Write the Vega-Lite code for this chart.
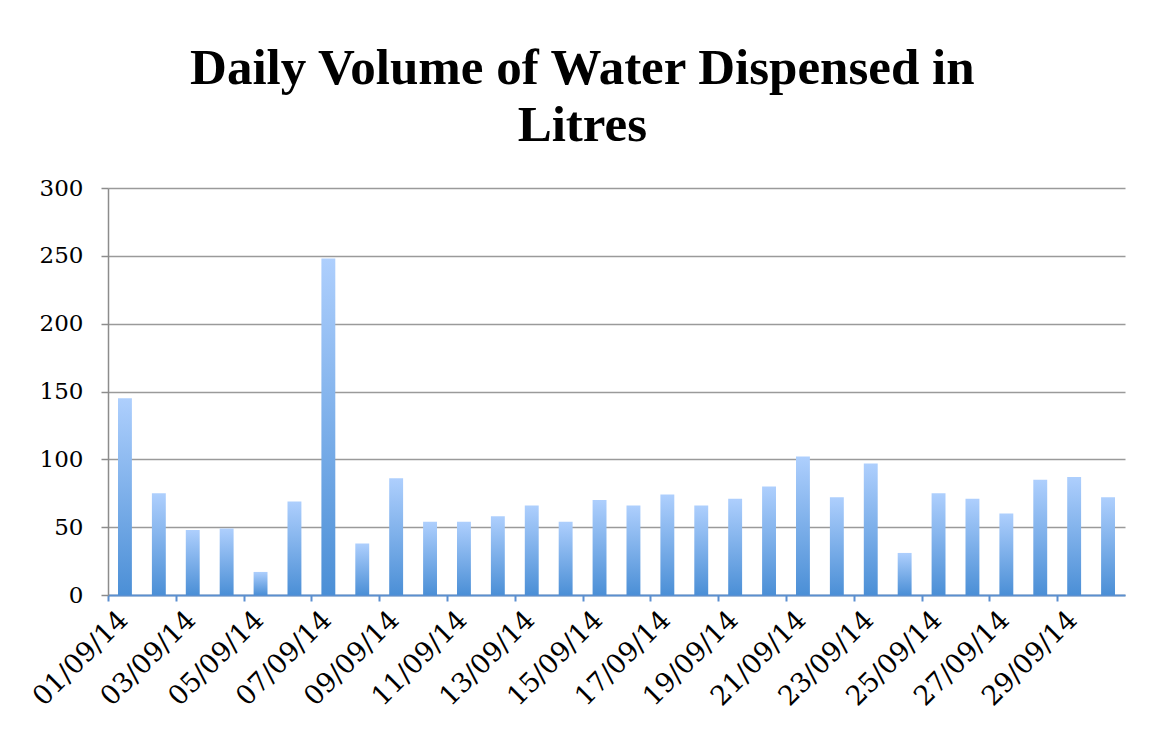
{
  "$schema": "https://vega.github.io/schema/vega-lite/v6.json",
  "width": 1017,
  "height": 407,
  "autosize": {"type": "none"},
  "padding": {"left": 108, "top": 188, "right": 30, "bottom": 137},
  "background": "white",
  "title": {
    "text": ["Daily Volume of Water Dispensed in", "Litres"],
    "font": "Liberation Serif",
    "fontSize": 51,
    "fontWeight": "bold",
    "color": "black",
    "anchor": "middle",
    "frame": "bounds",
    "lineHeight": 57,
    "offset": 25,
    "dx": 6
  },
  "data": {
    "values": [
      {"date": "01/09/14", "litres": 145},
      {"date": "02/09/14", "litres": 75},
      {"date": "03/09/14", "litres": 48},
      {"date": "04/09/14", "litres": 49},
      {"date": "05/09/14", "litres": 17},
      {"date": "06/09/14", "litres": 69},
      {"date": "07/09/14", "litres": 248},
      {"date": "08/09/14", "litres": 38},
      {"date": "09/09/14", "litres": 86},
      {"date": "10/09/14", "litres": 54},
      {"date": "11/09/14", "litres": 54},
      {"date": "12/09/14", "litres": 58},
      {"date": "13/09/14", "litres": 66},
      {"date": "14/09/14", "litres": 54},
      {"date": "15/09/14", "litres": 70},
      {"date": "16/09/14", "litres": 66},
      {"date": "17/09/14", "litres": 74},
      {"date": "18/09/14", "litres": 66},
      {"date": "19/09/14", "litres": 71},
      {"date": "20/09/14", "litres": 80},
      {"date": "21/09/14", "litres": 102},
      {"date": "22/09/14", "litres": 72},
      {"date": "23/09/14", "litres": 97},
      {"date": "24/09/14", "litres": 31},
      {"date": "25/09/14", "litres": 75},
      {"date": "26/09/14", "litres": 71},
      {"date": "27/09/14", "litres": 60},
      {"date": "28/09/14", "litres": 85},
      {"date": "29/09/14", "litres": 87},
      {"date": "30/09/14", "litres": 72}
    ]
  },
  "mark": {
    "type": "bar",
    "color": {
      "gradient": "linear",
      "x1": 0, "y1": 0, "x2": 0, "y2": 1,
      "stops": [
        {"offset": 0, "color": "#aecffd"},
        {"offset": 1, "color": "#4b8fd6"}
      ]
    }
  },
  "encoding": {
    "x": {
      "field": "date",
      "type": "ordinal",
      "sort": null,
      "scale": {"paddingInner": 0.59, "paddingOuter": 0.295},
      "axis": {
        "title": null,
        "values": ["01/09/14", "03/09/14", "05/09/14", "07/09/14", "09/09/14", "11/09/14", "13/09/14", "15/09/14", "17/09/14", "19/09/14", "21/09/14", "23/09/14", "25/09/14", "27/09/14", "29/09/14"],
        "labelAngle": -45,
        "labelAlign": "right",
        "labelBaseline": "alphabetic",
        "labelFont": "DejaVu Serif",
        "labelFontSize": 27,
        "labelColor": "black",
        "labelOverlap": false,
        "labelBound": false,
        "labelFlush": false,
        "tickSize": 6,
        "tickWidth": 2,
        "tickColor": "#5b8fd0",
        "tickOffset": -17,
        "labelOffset": 21,
        "labelPadding": 20,
        "domainColor": "#5b8fd0",
        "domainWidth": 2,
        "grid": false
      }
    },
    "y": {
      "field": "litres",
      "type": "quantitative",
      "scale": {"domain": [0, 300]},
      "axis": {
        "title": null,
        "values": [0, 50, 100, 150, 200, 250, 300],
        "labelFont": "DejaVu Serif",
        "labelFontSize": 23,
        "labelColor": "black",
        "labelPadding": 18,
        "tickSize": 7,
        "tickWidth": 1.5,
        "tickColor": "#8c8c8c",
        "domainColor": "#8c8c8c",
        "domainWidth": 1.5,
        "grid": true,
        "gridColor": "#9a9a9a",
        "gridWidth": 1.5
      }
    }
  },
  "config": {"view": {"stroke": null}}
}
